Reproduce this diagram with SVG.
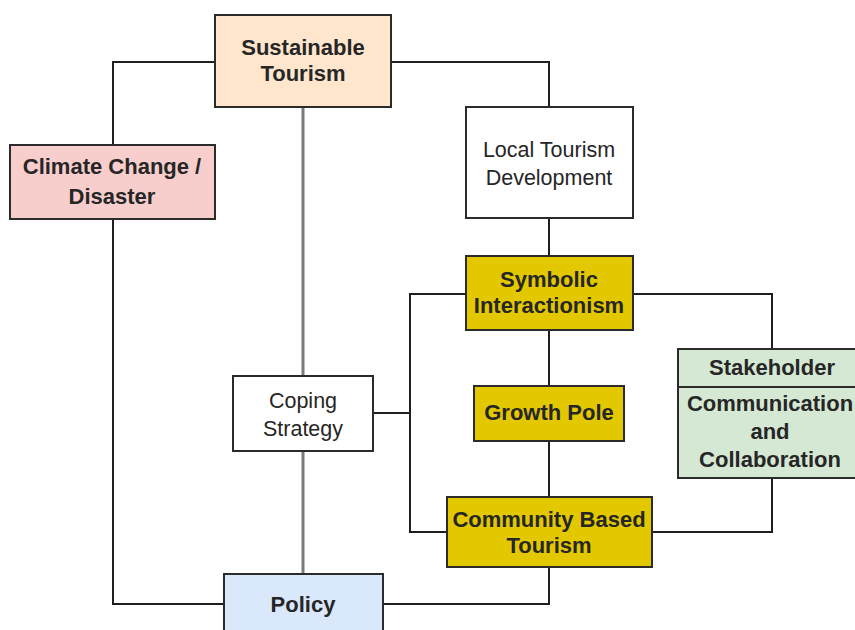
<svg xmlns="http://www.w3.org/2000/svg" width="855" height="630" viewBox="0 0 855 630">
<style>
.box{stroke:#2b2b2b;stroke-width:2}
.t{font-family:"Liberation Sans",Arial,sans-serif;font-size:21.5px;fill:#262626;text-anchor:middle}
.b{font-weight:bold;font-size:22px}
.ln{fill:none;stroke:#1f1f1f;stroke-width:2}
.gr{fill:none;stroke:#7a7a7a;stroke-width:3}
</style>
<rect width="855" height="630" fill="#ffffff"/>
<g id="connectors">
<polyline class="ln" points="215,62 113,62 113,145"/>
<polyline class="ln" points="391,62 549,62 549,107"/>
<line class="gr" x1="303" y1="107" x2="303" y2="376"/>
<line class="gr" x1="303" y1="451" x2="303" y2="574"/>
<polyline class="ln" points="113,219 113,604 224,604"/>
<line class="ln" x1="549" y1="218" x2="549" y2="256"/>
<polyline class="ln" points="466,294 410,294 410,532 447,532"/>
<line class="ln" x1="373" y1="413" x2="410" y2="413"/>
<polyline class="ln" points="633,294 772,294 772,349"/>
<line class="ln" x1="549" y1="330" x2="549" y2="386"/>
<line class="ln" x1="549" y1="441" x2="549" y2="497"/>
<polyline class="ln" points="652,532 772,532 772,478"/>
<polyline class="ln" points="549,567 549,604 383,604"/>
</g>
<g id="sustainable-tourism">
<rect class="box" x="215" y="15" width="176" height="92" fill="#ffe6cc"/>
<text class="t b" x="303" y="55">Sustainable</text>
<text class="t b" x="303" y="81">Tourism</text>
</g>
<g id="climate-change">
<rect class="box" x="10" y="145" width="205" height="74" fill="#f8cecc"/>
<text class="t b" x="112" y="174">Climate Change /</text>
<text class="t b" x="112" y="204">Disaster</text>
</g>
<g id="local-tourism">
<rect class="box" x="466" y="107" width="167" height="111" fill="#ffffff"/>
<text class="t" x="549" y="157">Local Tourism</text>
<text class="t" x="549" y="185">Development</text>
</g>
<g id="symbolic-interactionism">
<rect class="box" x="466" y="256" width="167" height="74" fill="#e3c800"/>
<text class="t b" x="549" y="287">Symbolic</text>
<text class="t b" x="549" y="313">Interactionism</text>
</g>
<g id="growth-pole">
<rect class="box" x="474" y="386" width="150" height="55" fill="#e3c800"/>
<text class="t b" x="549" y="420">Growth Pole</text>
</g>
<g id="stakeholder">
<rect class="box" x="678" y="349" width="188" height="129" fill="#d5e8d4"/>
<line class="box" x1="678" y1="387" x2="866" y2="387"/>
<text class="t b" x="772" y="375">Stakeholder</text>
<text class="t b" x="770" y="411">Communication</text>
<text class="t b" x="770" y="439">and</text>
<text class="t b" x="770" y="467">Collaboration</text>
</g>
<g id="coping-strategy">
<rect class="box" x="233" y="376" width="140" height="75" fill="#ffffff"/>
<text class="t" x="303" y="408">Coping</text>
<text class="t" x="303" y="436">Strategy</text>
</g>
<g id="community-based-tourism">
<rect class="box" x="447" y="497" width="205" height="70" fill="#e3c800"/>
<text class="t b" x="549" y="527">Community Based</text>
<text class="t b" x="549" y="553">Tourism</text>
</g>
<g id="policy">
<rect class="box" x="224" y="574" width="159" height="64" fill="#dae8fc"/>
<text class="t b" x="303" y="612">Policy</text>
</g>
</svg>
